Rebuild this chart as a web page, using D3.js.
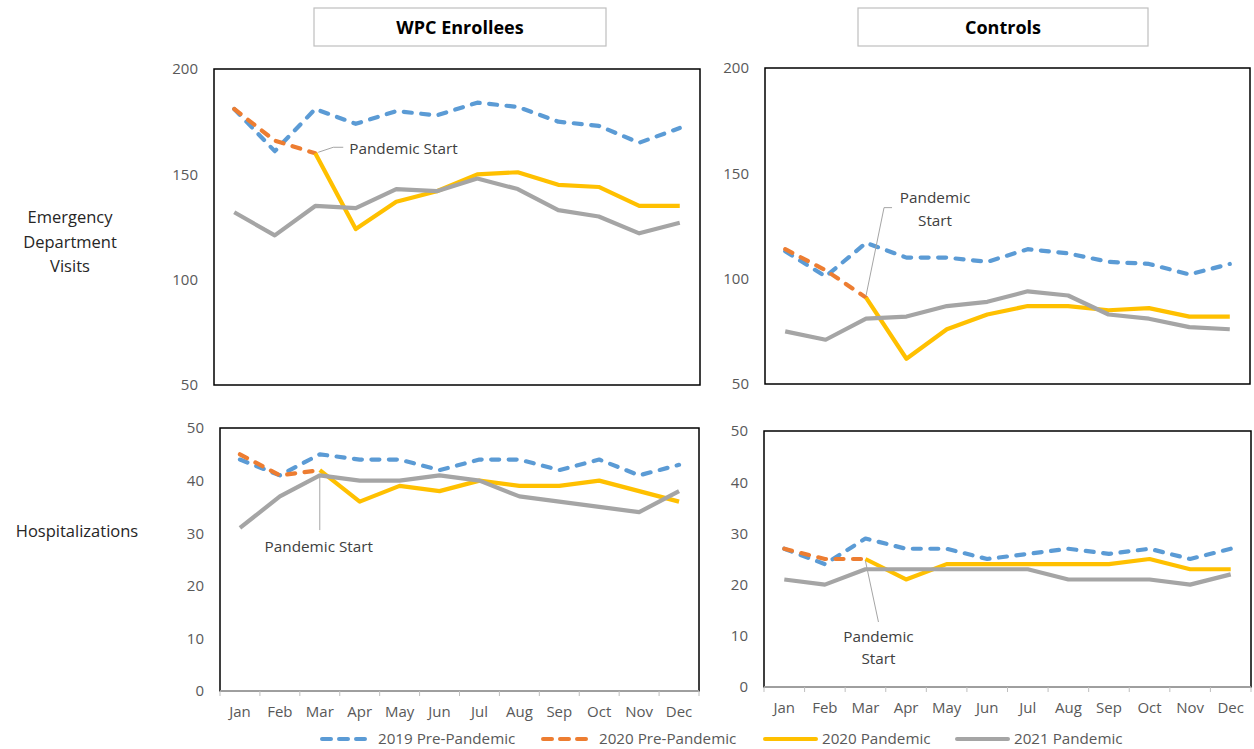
<!DOCTYPE html>
<html>
<head>
<meta charset="utf-8">
<script src="https://cdn.jsdelivr.net/npm/d3@7"></script>
<style>
  html, body { margin: 0; padding: 0; background: #fff; }
  svg { display: block; font-family: "Open Sans", "Noto Sans", sans-serif; }
</style>
</head>
<body>
<svg id="chart" width="1254" height="749"></svg>
<script>
// Month categories shared by all four panels
const months = ["Jan", "Feb", "Mar", "Apr", "May", "Jun", "Jul", "Aug", "Sep", "Oct", "Nov", "Dec"];

// Series names (legend order)
const seriesNames = ["2019 Pre-Pandemic", "2020 Pre-Pandemic", "2020 Pandemic", "2021 Pandemic"];

// Emergency department visits – WPC enrollees
const edWpc2019    = [181, 161, 181, 174, 180, 178, 184, 182, 175, 173, 165, 172];
const edWpc2020Pre = [181, 166, 160, null, null, null, null, null, null, null, null, null];
const edWpc2020    = [null, null, 160, 124, 137, 142, 150, 151, 145, 144, 135, 135];
const edWpc2021    = [132, 121, 135, 134, 143, 142, 148, 143, 133, 130, 122, 127];

// Emergency department visits – controls
const edCtl2019    = [113, 101, 117, 110, 110, 108, 114, 112, 108, 107, 102, 107];
const edCtl2020Pre = [114, 104, 91, null, null, null, null, null, null, null, null, null];
const edCtl2020    = [null, null, 91, 62, 76, 83, 87, 87, 85, 86, 82, 82];
const edCtl2021    = [75, 71, 81, 82, 87, 89, 94, 92, 83, 81, 77, 76];

// Hospitalizations – WPC enrollees
const hospWpc2019    = [44, 41, 45, 44, 44, 42, 44, 44, 42, 44, 41, 43];
const hospWpc2020Pre = [45, 41, 42, null, null, null, null, null, null, null, null, null];
const hospWpc2020    = [null, null, 42, 36, 39, 38, 40, 39, 39, 40, 38, 36];
const hospWpc2021    = [31, 37, 41, 40, 40, 41, 40, 37, 36, 35, 34, 38];

// Hospitalizations – controls
const hospCtl2019    = [27, 24, 29, 27, 27, 25, 26, 27, 26, 27, 25, 27];
const hospCtl2020Pre = [27, 25, 25, null, null, null, null, null, null, null, null, null];
const hospCtl2020    = [null, null, 25, 21, 24, 24, 24, 24, 24, 25, 23, 23];
const hospCtl2021    = [21, 20, 23, 23, 23, 23, 23, 21, 21, 21, 20, 22];

// Axis tick values
const edTicks   = [50, 100, 150, 200];
const hospTicks = [0, 10, 20, 30, 40, 50];

// Text labels
const columnTitles = ["WPC Enrollees", "Controls"];
const rowTitles = [["Emergency", "Department", "Visits"], ["Hospitalizations"]];
const annotationText = "Pandemic Start";

// Line styling per series
const styles = [
  { color: "#5B9BD5", dash: "8,9.5" },
  { color: "#ED7D31", dash: "8,9.5" },
  { color: "#FFC000", dash: null },
  { color: "#A5A5A5", dash: null }
];

const svg = d3.select("#chart");
const labelFont = "15px";

// Panel layouts and the data each one draws
const panels = [
  { box: [214, 700, 69, 385], domain: [50, 200], ticks: edTicks, xLabels: false,
    data: [edWpc2019, edWpc2020Pre, edWpc2020, edWpc2021], annot: "tl" },
  { box: [765, 1250, 68, 384], domain: [50, 200], ticks: edTicks, xLabels: false,
    data: [edCtl2019, edCtl2020Pre, edCtl2020, edCtl2021], annot: "tr" },
  { box: [220, 699, 428, 691], domain: [0, 50], ticks: hospTicks, xLabels: true,
    data: [hospWpc2019, hospWpc2020Pre, hospWpc2020, hospWpc2021], annot: "bl" },
  { box: [764, 1251, 431, 687], domain: [0, 50], ticks: hospTicks, xLabels: true,
    data: [hospCtl2019, hospCtl2020Pre, hospCtl2020, hospCtl2021], annot: "br" }
];

panels.forEach(p => {
  const [x0, x1, y0, y1] = p.box;
  const x = d3.scaleBand().domain(months).range([x0, x1]);
  const cx = m => x(m) + x.bandwidth() / 2;
  const y = d3.scaleLinear().domain(p.domain).range([y1, y0]);
  const g = svg.append("g");

  // plot-area border
  g.append("rect")
    .attr("x", x0).attr("y", y0)
    .attr("width", x1 - x0).attr("height", y1 - y0)
    .attr("fill", "none").attr("stroke", "#000").attr("stroke-width", 1.5);

  // value axis labels
  const ya = g.append("g")
    .attr("transform", `translate(${x0},0)`)
    .call(d3.axisLeft(y).tickValues(p.ticks).tickSize(0).tickPadding(16));
  ya.select(".domain").remove();
  ya.selectAll("text")
    .attr("fill", "#595959").style("font-size", labelFont)
    .style("font-family", "'Open Sans', 'Noto Sans', sans-serif");

  if (p.xLabels) {
    // category axis: grey line, boundary tick marks, month labels
    g.append("line")
      .attr("x1", x0).attr("x2", x1).attr("y1", y1).attr("y2", y1)
      .attr("stroke", "#BFBFBF").attr("stroke-width", 1.5);
    const bounds = months.map(m => x(m)).concat([x1]);
    g.selectAll(".tk").data(bounds).enter().append("line")
      .attr("x1", d => d).attr("x2", d => d)
      .attr("y1", y1).attr("y2", y1 + 5)
      .attr("stroke", "#BFBFBF").attr("stroke-width", 1);
    const xa = g.append("g")
      .attr("transform", `translate(0,${y1})`)
      .call(d3.axisBottom(x).tickSize(0).tickPadding(15));
    xa.select(".domain").remove();
    xa.selectAll("text")
      .attr("fill", "#595959").style("font-size", labelFont)
      .style("font-family", "'Open Sans', 'Noto Sans', sans-serif");
  }

  // series lines
  const line = d3.line()
    .defined(d => d.v !== null)
    .x(d => cx(d.m))
    .y(d => y(d.v));
  p.data.forEach((vals, i) => {
    const pts = months.map((m, k) => ({ m, v: vals[k] }));
    const path = g.append("path")
      .datum(pts)
      .attr("d", line)
      .attr("fill", "none")
      .attr("stroke", styles[i].color)
      .attr("stroke-width", 4.2)
      .attr("stroke-linejoin", "round")
      .attr("stroke-linecap", styles[i].dash ? "round" : "butt");
    if (styles[i].dash) path.attr("stroke-dasharray", styles[i].dash);
  });

  // "Pandemic Start" callout anchored at the March 2020 pre-pandemic value
  const ax = cx("Mar");
  const ay = y(p.data[1][2]);
  const lead = g.append("polyline")
    .attr("fill", "none").attr("stroke", "#A5A5A5").attr("stroke-width", 1);
  const txt = (tx, ty, s, anchor) => g.append("text")
    .attr("x", tx).attr("y", ty).attr("dy", "0.35em")
    .attr("text-anchor", anchor).attr("fill", "#404040")
    .style("font-size", "15.3px").text(s);
  const words = annotationText.split(" ");
  if (p.annot === "tl") {
    lead.attr("points", `${ax + 3},${ay - 1} ${ax + 18},${ay - 6} ${ax + 28},${ay - 6}`);
    txt(ax + 34, ay - 5, annotationText, "start");
  } else if (p.annot === "tr") {
    lead.attr("points", `${ax},${ay - 2} ${ax + 18},${ay - 90} ${ax + 26},${ay - 90}`);
    txt(ax + 69, ay - 100, words[0], "middle");
    txt(ax + 69, ay - 77, words[1], "middle");
  } else if (p.annot === "bl") {
    lead.attr("points", `${ax},${ay + 4} ${ax},${ay + 60}`);
    txt(ax - 1, ay + 77, annotationText, "middle");
  } else {
    lead.attr("points", `${ax},${ay + 2} ${ax + 13},${ay + 63}`);
    txt(ax + 13, ay + 78, words[0], "middle");
    txt(ax + 13, ay + 100, words[1], "middle");
  }
});

// column title boxes
const titleBoxes = [[314, 606], [858, 1148]];
columnTitles.forEach((t, i) => {
  const [a, b] = titleBoxes[i];
  svg.append("rect")
    .attr("x", a).attr("y", 8).attr("width", b - a).attr("height", 38)
    .attr("fill", "#fff").attr("stroke", "#BFBFBF").attr("stroke-width", 1.2);
  svg.append("text")
    .attr("x", (a + b) / 2).attr("y", 28).attr("dy", "0.35em")
    .attr("text-anchor", "middle").attr("fill", "#000")
    .style("font-size", "18px").style("font-weight", "bold").text(t);
});

// row titles
const rowCenters = [[70, 242], [77, 531]];
rowTitles.forEach((lines, i) => {
  const [rx, ry] = rowCenters[i];
  lines.forEach((s, k) => {
    svg.append("text")
      .attr("x", rx).attr("y", ry + (k - (lines.length - 1) / 2) * 24.5)
      .attr("dy", "0.35em").attr("text-anchor", "middle")
      .attr("fill", "#262626").style("font-size", "16.5px").text(s);
  });
});

// legend
const legendX = [320, 541, 765, 957];
seriesNames.forEach((name, i) => {
  const lx = legendX[i], ly = 739;
  const l = svg.append("line")
    .attr("x1", styles[i].dash ? lx + 2 : lx).attr("x2", styles[i].dash ? lx + 46 : lx + 51)
    .attr("y1", ly).attr("y2", ly)
    .attr("stroke", styles[i].color).attr("stroke-width", 4)
    .attr("stroke-linecap", "round");
  if (styles[i].dash) l.attr("stroke-dasharray", "9,8");
  svg.append("text")
    .attr("x", styles[i].dash ? lx + 58 : lx + 57).attr("y", ly).attr("dy", "0.35em")
    .attr("fill", "#595959").style("font-size", "15.2px").text(name);
});
</script>
</body>
</html>
